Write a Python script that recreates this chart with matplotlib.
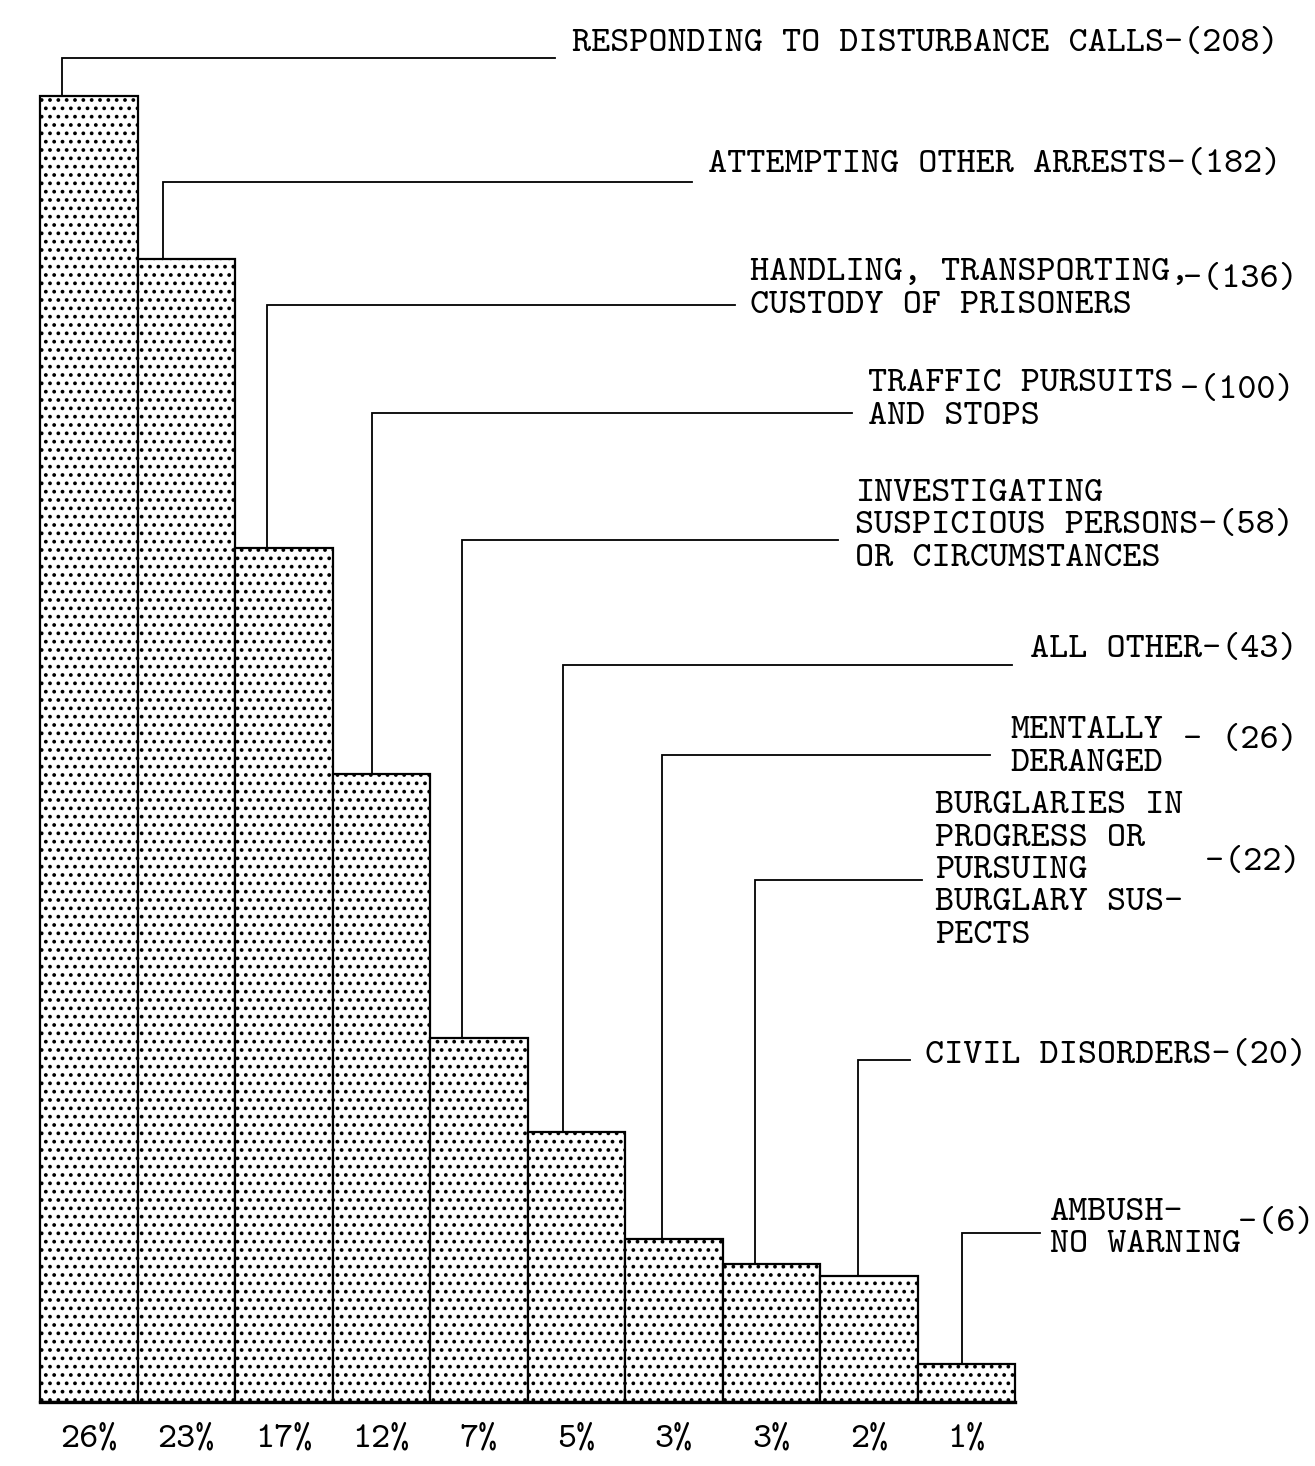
import matplotlib
matplotlib.use("Agg")
import matplotlib.pyplot as plt

# data
categories = [
    ["RESPONDING TO DISTURBANCE CALLS"],
    ["ATTEMPTING OTHER ARRESTS"],
    ["HANDLING, TRANSPORTING,", "CUSTODY OF PRISONERS"],
    ["TRAFFIC PURSUITS", "AND STOPS"],
    ["INVESTIGATING", "SUSPICIOUS PERSONS", "OR CIRCUMSTANCES"],
    ["ALL OTHER"],
    ["MENTALLY", "DERANGED"],
    ["BURGLARIES IN", "PROGRESS OR", "PURSUING", "BURGLARY SUS-", "PECTS"],
    ["CIVIL DISORDERS"],
    ["AMBUSH-", "NO WARNING"],
]
counts = [208, 182, 136, 100, 58, 43, 26, 22, 20, 6]
pct_labels = ["26%", "23%", "17%", "12%", "7%", "5%", "3%", "3%", "2%", "1%"]

# layout, in image pixels (converted below)
W_PX, H_PX = 1315, 1466
X0, BAR_W = 40.0, 97.5      # left edge of first bar, px per bar
BASE, SCALE = 1402.0, 6.28  # baseline px, px per count

def dx(px):
    return (px - X0) / BAR_W - 0.5

def dy(py):
    return (BASE - py) / SCALE

leader_off = [-27, -23, -17, -9, -17, -13, -12, -16, -11, -4]   # px from bar centre
hline_y = [58, 182, 305, 413, 540, 665, 755, 880, 1060, 1233]
hline_end = [555, 692, 735, 852, 838, 1012, 990, 922, 910, 1040]
text_x = [572, 708, 750, 868, 855, 1030, 1010, 935, 925, 1050]
text_y = [44, 165, 273, 384, 494, 650, 731, 806, 1056, 1213]
# where the "-(n)" tag sits: None -> inline after line index tag_line
tag_line = [0, 0, None, None, 1, 0, None, None, 0, None]
tag_pos = [None, None, (1183, 280), (1180, 391), None, None, (1183, 741),
           (1205, 863), None, (1238, 1224)]
LINE_STEP = 32.5
FONT = "cmtt10"
FS = 26.2

fig = plt.figure(figsize=(W_PX / 100, H_PX / 100), dpi=100)
ax = fig.add_axes([0, 0, 1, 1])
ax.set_xlim(dx(0), dx(W_PX))
ax.set_ylim(dy(H_PX), dy(0))
ax.axis("off")

plt.rcParams["hatch.linewidth"] = 1.5
xs = list(range(len(counts)))
ax.bar(xs, counts, width=1.0, color="white", edgecolor="black",
       hatch="..", linewidth=1.6, zorder=2)
# heavier outline along the base
ax.plot([-0.5, len(counts) - 0.5], [0, 0], color="black", lw=2.4, zorder=3)

for i, n in enumerate(counts):
    lx = i + leader_off[i] / BAR_W
    ly = dy(hline_y[i])
    ax.plot([lx, lx, dx(hline_end[i])], [n, ly, ly], color="black",
            lw=1.3, solid_joinstyle="miter", zorder=1)
    lines = list(categories[i])
    if tag_line[i] is not None:
        lines[tag_line[i]] = lines[tag_line[i]] + f"-({n})"
    for k, s in enumerate(lines):
        ax.text(dx(text_x[i]), dy(text_y[i] + k * LINE_STEP), s,
                family=FONT, fontsize=FS, ha="left", va="center")
    if tag_pos[i] is not None:
        tx, ty = tag_pos[i]
        sep = " " if i == 6 else ""
        ax.text(dx(tx), dy(ty), f"-{sep}({n})", family=FONT, fontsize=FS,
                ha="left", va="center")

for i, p in enumerate(pct_labels):
    ax.text(i, dy(1440), p, family=FONT, fontsize=FS, ha="center", va="center")

fig.savefig("out.png", dpi=100, facecolor="white")
